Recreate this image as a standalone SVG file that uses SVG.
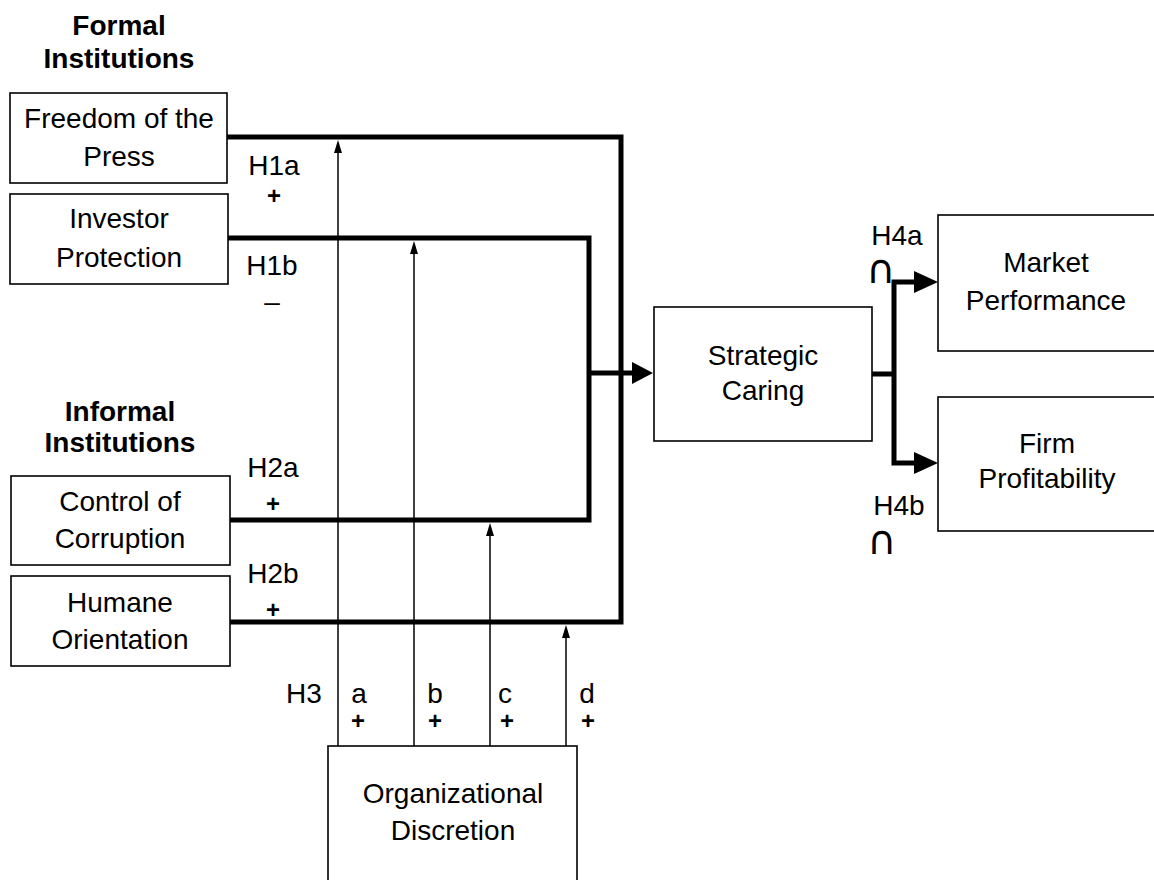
<svg xmlns="http://www.w3.org/2000/svg" width="1154" height="880" viewBox="0 0 1154 880">
<defs>
<style>
text{font-family:"Liberation Sans",Arial,sans-serif;font-size:28px;fill:#000;text-anchor:middle}
.b{font-weight:bold}
.p{font-size:24px;font-weight:bold}
.cap{font-family:"DejaVu Sans",sans-serif;font-size:40px}
.box{fill:#fff;stroke:#000;stroke-width:1.6}
.thick{fill:none;stroke:#000;stroke-width:5;stroke-linejoin:miter}
.thin{fill:none;stroke:#000;stroke-width:1.5}
</style>
</defs>
<rect width="1154" height="880" fill="#fff"/>
<text class="b" x="119" y="35">Formal</text>
<text class="b" x="119" y="68">Institutions</text>
<text class="b" x="120" y="421">Informal</text>
<text class="b" x="120" y="452">Institutions</text>
<g id="connectors">
<path class="thick" d="M227,137 H621 V622 H230"/>
<path class="thick" d="M228,238 H589 V520 H230"/>
<path class="thick" d="M589,373 H634"/>
<polygon points="632,362 653,373 632,384" fill="#000"/>
<path class="thick" d="M872,374 H894 M894,282 V463 M891.5,282 H917 M891.5,463 H917"/>
<polygon points="914,271 938,282 914,293" fill="#000"/>
<polygon points="914,452 938,463 914,474" fill="#000"/>
<path class="thin" d="M338,746 V152"/>
<polygon points="334,153 338,140 342,153" fill="#000"/>
<path class="thin" d="M414,746 V254"/>
<polygon points="410,254 414,241 418,254" fill="#000"/>
<path class="thin" d="M490,746 V536"/>
<polygon points="486,536 490,523 494,536" fill="#000"/>
<path class="thin" d="M566,746 V638"/>
<polygon points="562,638 566,625 570,638" fill="#000"/>
</g>
<g id="freedom"><rect class="box" x="10" y="93" width="217" height="90"/><text x="119" y="128">Freedom of the</text><text x="119" y="166">Press</text></g>
<g id="investor"><rect class="box" x="10" y="194" width="218" height="90"/><text x="119" y="228">Investor</text><text x="119" y="267">Protection</text></g>
<g id="control"><rect class="box" x="11" y="476" width="219" height="89"/><text x="120" y="511">Control of</text><text x="120" y="548">Corruption</text></g>
<g id="humane"><rect class="box" x="11" y="576" width="219" height="90"/><text x="120" y="612">Humane</text><text x="120" y="649">Orientation</text></g>
<g id="strategic"><rect class="box" x="654" y="307" width="218" height="134"/><text x="763" y="365">Strategic</text><text x="763" y="400">Caring</text></g>
<g id="market"><rect class="box" x="938" y="215" width="230" height="136"/><text x="1046" y="272">Market</text><text x="1046" y="310">Performance</text></g>
<g id="firm"><rect class="box" x="938" y="397" width="230" height="134"/><text x="1047" y="453">Firm</text><text x="1047" y="488">Profitability</text></g>
<g id="org"><rect class="box" x="328" y="746" width="249" height="140"/><text x="453" y="803">Organizational</text><text x="453" y="840">Discretion</text></g>
<g id="labels">
<text x="274" y="175">H1a</text><text class="p" x="274" y="204">+</text>
<text x="272" y="275">H1b</text><text x="272" y="311">–</text>
<text x="273" y="477">H2a</text><text class="p" x="273" y="512">+</text>
<text x="273" y="583">H2b</text><text class="p" x="273" y="618">+</text>
<text x="304" y="703">H3</text>
<text x="359" y="703">a</text><text class="p" x="358" y="729">+</text>
<text x="435" y="703">b</text><text class="p" x="435" y="729">+</text>
<text x="505" y="703">c</text><text class="p" x="507" y="729">+</text>
<text x="587" y="703">d</text><text class="p" x="588" y="729">+</text>
<text x="897" y="245">H4a</text><text class="cap" x="881" y="283">∩</text>
<text x="899" y="515">H4b</text><text class="cap" x="882" y="554">∩</text>
</g>
</svg>
